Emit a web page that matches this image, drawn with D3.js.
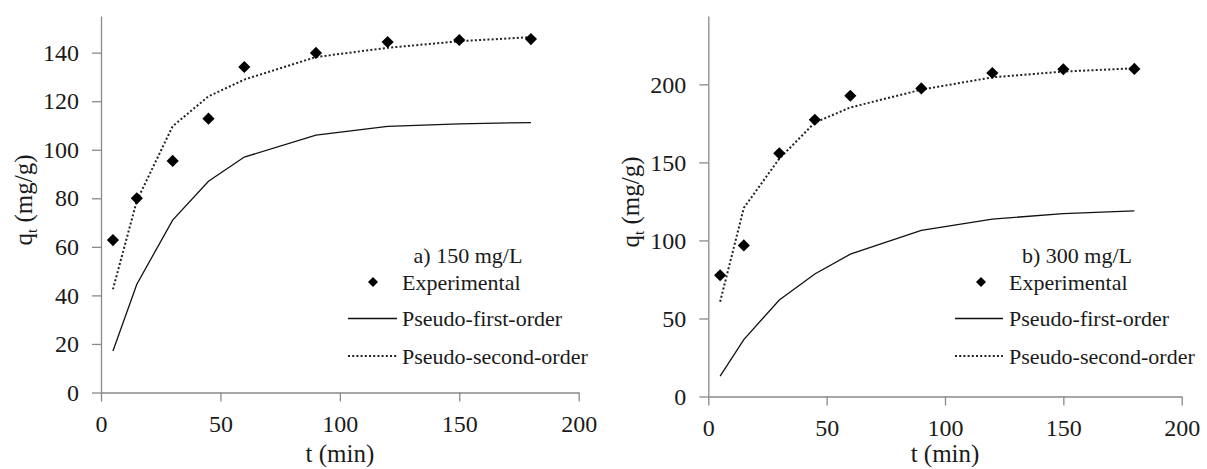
<!DOCTYPE html>
<html>
<head>
<meta charset="utf-8">
<script src="https://cdn.jsdelivr.net/npm/d3@7"></script>
<style>
  body { margin: 0; background: #fff; }
  .axis path, .axis line { stroke: #8a8a8a; stroke-width: 1.3; }
</style>
</head>
<body>
<div id="chart"></div>
<script>
var serif = "'Liberation Serif', 'Times New Roman', serif";

// contact times (min)
var times = [5, 15, 30, 45, 60, 90, 120, 150, 180];

// a) 150 mg/L
var expA = [62.8, 80, 95.4, 112.8, 134.1, 139.9, 144.4, 145.2, 145.6];
var pfoA = [17.1, 44.6, 71, 87, 97, 106, 109.6, 110.7, 111.2];
var psoA = [42.5, 79, 109.7, 122, 128.9, 138.2, 142, 144.7, 146.4];

// b) 300 mg/L
var expB = [77.7, 96.8, 155.8, 177.3, 192.7, 197.4, 207.3, 209.7, 209.9];
var pfoB = [13.1, 36.5, 61.8, 78.5, 91.2, 106.4, 113.7, 117.2, 118.9];
var psoB = [60.7, 120.8, 152.4, 175.5, 185.2, 196.6, 204.5, 208.2, 210.3];

var xTicks = [0, 50, 100, 150, 200];
var yTicksA = [0, 20, 40, 60, 80, 100, 120, 140];
var yTicksB = [0, 50, 100, 150, 200];

var legendNames = ["Experimental", "Pseudo-first-order", "Pseudo-second-order"];

var svg = d3.select("#chart").append("svg")
    .attr("width", 1207)
    .attr("height", 469)
    .style("font-family", serif);

function drawPanel(p) {
  var x = d3.scaleLinear().domain([0, 200]).range([p.x0, p.x1]);
  var y = d3.scaleLinear().domain([0, p.yMax]).range([p.y0, 16]);

  var g = svg.append("g");

  // x axis
  g.append("g")
      .attr("class", "axis")
      .attr("transform", "translate(0," + p.y0 + ")")
      .call(d3.axisBottom(x).tickValues(xTicks).tickSize(9).tickSizeOuter(0).tickPadding(13))
      .attr("font-family", null)
      .selectAll("text")
        .attr("fill", "#1a1a1a")
        .style("font-family", serif)
        .style("font-size", "24px");

  // y axis
  g.append("g")
      .attr("class", "axis")
      .attr("transform", "translate(" + p.x0 + ",0)")
      .call(d3.axisLeft(y).tickValues(p.yTicks).tickSize(9).tickSizeOuter(0).tickPadding(13))
      .attr("font-family", null)
      .selectAll("text")
        .attr("fill", "#1a1a1a")
        .style("font-family", serif)
        .style("font-size", "24px");

  // axis titles
  g.append("text")
      .attr("x", (p.x0 + p.x1) / 2)
      .attr("y", 462)
      .attr("text-anchor", "middle")
      .attr("fill", "#1a1a1a")
      .style("font-family", serif)
      .style("font-size", "25px")
      .text("t (min)");

  var yt = g.append("text")
      .attr("transform", "translate(" + p.yTitleX + "," + p.yTitleY + ") rotate(-90)")
      .attr("text-anchor", "middle")
      .attr("dy", "0.35em")
      .attr("fill", "#1a1a1a")
      .style("font-family", serif)
      .style("font-size", "25px");
  yt.append("tspan").text("q");
  yt.append("tspan").attr("dy", "5").style("font-size", "15px").text("t");
  yt.append("tspan").attr("dy", "-5").text(" (mg/g)");

  var line = d3.line()
      .x(function(d, i) { return x(times[i]); })
      .y(function(d) { return y(d); });

  // pseudo-first-order
  g.append("path")
      .datum(p.pfo)
      .attr("d", line)
      .attr("fill", "none")
      .attr("stroke", "#111")
      .attr("stroke-width", 1.3);

  // pseudo-second-order
  g.append("path")
      .datum(p.pso)
      .attr("d", line)
      .attr("fill", "none")
      .attr("stroke", "#222")
      .attr("stroke-width", 2)
      .attr("stroke-dasharray", "2,2.2");

  // experimental points
  var diamond = d3.symbol().type(d3.symbolSquare).size(74);
  g.selectAll(".pt")
      .data(p.exp)
    .enter().append("path")
      .attr("class", "pt")
      .attr("d", diamond)
      .attr("transform", function(d, i) {
        return "translate(" + x(times[i]) + "," + y(d) + ") rotate(45)";
      })
      .attr("fill", "#000");

  // legend
  var lg = g.append("g");
  lg.append("text")
      .attr("x", p.legTitleX)
      .attr("y", 255)
      .attr("dy", "0.35em")
      .attr("text-anchor", "middle")
      .attr("fill", "#1a1a1a")
      .style("font-family", serif)
      .style("font-size", "22px")
      .text(p.title);

  var rows = [282, 318.5, 356];
  legendNames.forEach(function(name, k) {
    lg.append("text")
        .attr("x", p.legTextX)
        .attr("y", rows[k])
        .attr("dy", "0.35em")
        .attr("fill", "#1a1a1a")
        .style("font-family", serif)
        .style("font-size", "22px")
        .text(name);
  });
  lg.append("path")
      .attr("d", d3.symbol().type(d3.symbolSquare).size(50))
      .attr("transform", "translate(" + p.legMarkX + "," + rows[0] + ") rotate(45)")
      .attr("fill", "#000");
  lg.append("line")
      .attr("x1", p.legLineX0).attr("x2", p.legLineX1)
      .attr("y1", rows[1]).attr("y2", rows[1])
      .attr("stroke", "#111").attr("stroke-width", 1.3);
  lg.append("line")
      .attr("x1", p.legLineX0).attr("x2", p.legLineX1)
      .attr("y1", rows[2]).attr("y2", rows[2])
      .attr("stroke", "#222").attr("stroke-width", 2)
      .attr("stroke-dasharray", "2,2.2");
}

drawPanel({
  x0: 101, x1: 578.7, y0: 392.5, yMax: 155.1, yTicks: yTicksA,
  exp: expA, pfo: pfoA, pso: psoA,
  yTitleX: 23, yTitleY: 200,
  title: "a) 150 mg/L", legTitleX: 468, legTextX: 402, legMarkX: 373,
  legLineX0: 348, legLineX1: 397
});

drawPanel({
  x0: 708.3, x1: 1181.7, y0: 396.5, yMax: 243.8, yTicks: yTicksB,
  exp: expB, pfo: pfoB, pso: psoB,
  yTitleX: 630, yTitleY: 202,
  title: "b) 300 mg/L", legTitleX: 1077, legTextX: 1009, legMarkX: 981,
  legLineX0: 955, legLineX1: 1003
});
</script>
</body>
</html>
